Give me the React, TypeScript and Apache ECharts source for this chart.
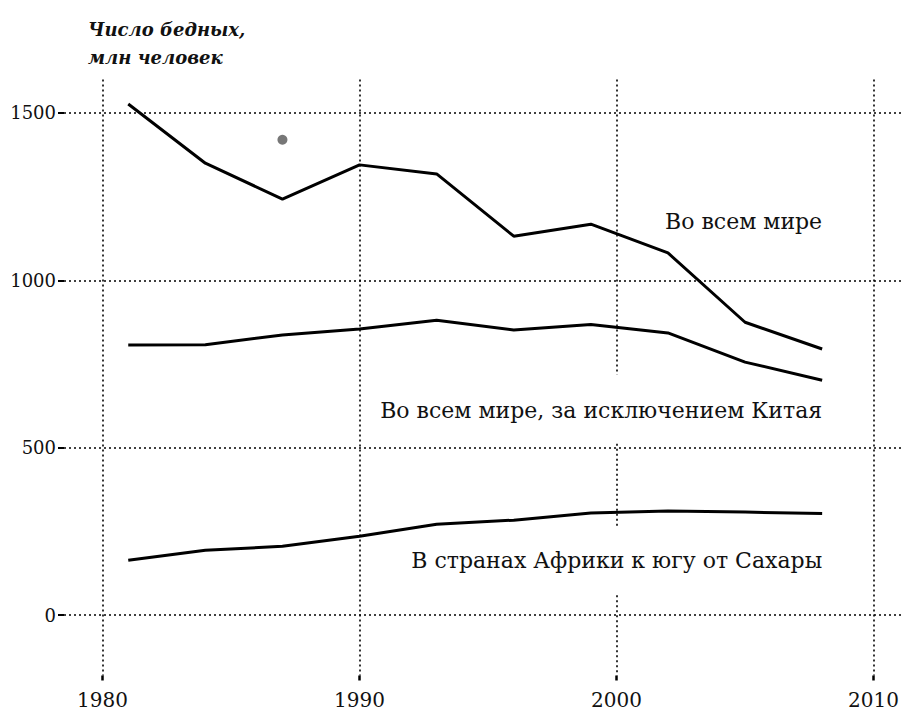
import React, { useEffect, useRef } from "react";
import * as echarts from "echarts";

const years = [1981, 1984, 1987, 1990, 1993, 1996, 1999, 2002, 2005, 2008];
const world = [1527, 1350, 1243, 1345, 1318, 1132, 1168, 1082, 875, 795];
const worldExChina = [807, 808, 837, 855, 881, 852, 868, 843, 756, 702];
const subSaharan = [164, 194, 206, 236, 272, 284, 305, 311, 308, 304];
const strayPoint = [1987, 1420];

const xTicks = [1980, 1990, 2000, 2010];
const yTicks = [0, 500, 1000, 1500];

const titleText = "Число бедных,\nмлн человек";
const labelWorld = "Во всем мире";
const labelExChina = "Во всем мире, за исключением Китая";
const labelSSA = "В странах Африки к югу от Сахары";

const X_MIN = 1978.5;
const X_MAX = 2011.1;
const Y_MIN = -180;
const Y_MAX = 1600;

const FONT = "DejaVu Serif";

export default function App() {
  const ref = useRef<HTMLDivElement>(null);

  useEffect(() => {
    if (!ref.current) return;
    const chart = echarts.init(ref.current, undefined, { renderer: "svg" });

    const dotted = { type: [2, 3] as any, color: "#000", width: 1.6 };

    const gridLines: any[] = [];
    yTicks.forEach((v) => {
      gridLines.push([{ coord: [X_MIN, v] }, { coord: [X_MAX, v] }]);
    });
    xTicks.forEach((x) => {
      if (x === 2000) {
        gridLines.push([{ coord: [x, Y_MAX] }, { coord: [x, 718] }]);
        gridLines.push([{ coord: [x, 512] }, { coord: [x, 260] }]);
        gridLines.push([{ coord: [x, 60] }, { coord: [x, Y_MIN] }]);
      } else {
        gridLines.push([{ coord: [x, Y_MAX] }, { coord: [x, Y_MIN] }]);
      }
    });

    const mkLabel = (text: string, x: number, y: number) => ({
      coord: [x, y],
      symbol: "circle",
      symbolSize: 0,
      label: {
        show: true,
        position: "inside",
        align: "right",
        verticalAlign: "middle",
        formatter: text,
        fontFamily: FONT,
        fontSize: 22,
        color: "#111",
      },
    });

    const lineSeries = (name: string, data: number[], label: any, withGrid: boolean) => ({
      name,
      type: "line",
      data: years.map((y, i) => [y, data[i]]),
      showSymbol: false,
      symbol: "none",
      lineStyle: { color: "#000", width: 3 },
      z: 3,
      silent: true,
      markPoint: { silent: true, data: [label], itemStyle: { color: "transparent" } },
      ...(withGrid
        ? {
            markLine: {
              silent: true,
              symbol: "none",
              z: 1,
              label: { show: false },
              lineStyle: dotted,
              data: gridLines,
            },
          }
        : {}),
    });

    chart.setOption({
      animation: false,
      backgroundColor: "#fff",
      title: {
        text: titleText,
        left: 83,
        top: 10,
        textStyle: {
          fontFamily: FONT,
          fontStyle: "italic",
          fontWeight: "bold",
          fontSize: 18,
          lineHeight: 28,
          color: "#111",
        },
      },
      grid: { left: 64, right: 0, top: 79.5, bottom: 37.5 },
      xAxis: {
        type: "value",
        min: X_MIN,
        max: X_MAX,
        axisLine: { show: false, onZero: false },
        splitLine: { show: false },
        axisTick: {
          show: true,
          length: 5,
          customValues: xTicks,
          lineStyle: { color: "#000", width: 2.5 },
        },
        axisLabel: {
          customValues: xTicks,
          margin: 14,
          fontFamily: FONT,
          fontSize: 20,
          color: "#111",
          formatter: (v: number) => String(v),
        },
      },
      yAxis: {
        type: "value",
        min: Y_MIN,
        max: Y_MAX,
        axisLine: { show: false, onZero: false },
        splitLine: { show: false },
        axisTick: {
          show: true,
          length: 6,
          customValues: yTicks,
          lineStyle: { color: "#000", width: 2 },
        },
        axisLabel: {
          customValues: yTicks,
          margin: 8,
          fontFamily: FONT,
          fontSize: 18,
          color: "#111",
          formatter: (v: number) => String(v),
        },
      },
      series: [
        lineSeries("world", world, mkLabel(labelWorld, 2008, 1175), true),
        lineSeries("exChina", worldExChina, mkLabel(labelExChina, 2008, 612), false),
        lineSeries("ssa", subSaharan, mkLabel(labelSSA, 2008, 164), false),
        {
          name: "dot",
          type: "scatter",
          data: [strayPoint],
          symbolSize: 10,
          itemStyle: { color: "#555" },
          silent: true,
          z: 4,
        },
      ],
    });

    return () => chart.dispose();
  }, []);

  return <div ref={ref} style={{ width: 902, height: 713, position: "absolute", left: 0, top: 0 }} />;
}
